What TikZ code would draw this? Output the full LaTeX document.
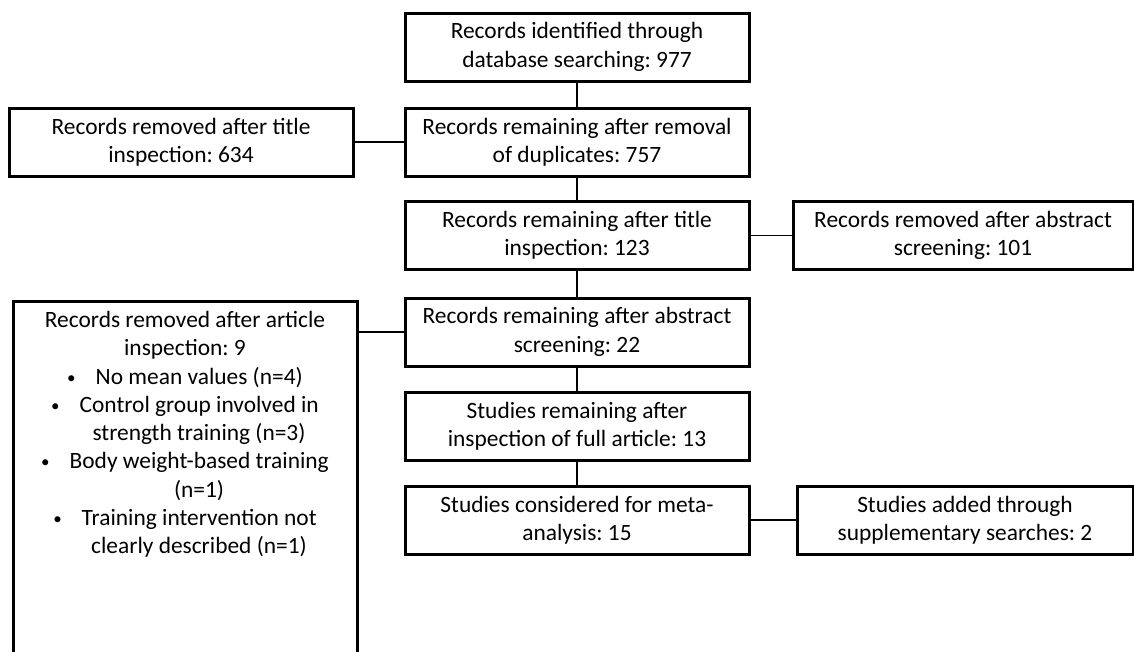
\documentclass[tikz,border=0pt]{standalone}
\usepackage{fontspec}
\setmainfont{Carlito}
\frenchspacing
\newcommand{\smallbul}{\raisebox{1pt}{\fontsize{17}{17}\selectfont\textbullet}}
\begin{document}
\begin{tikzpicture}[x=1pt,y=-1pt,
  box/.style={draw=black, line width=3pt, fill=white, minimum width=344pt, minimum height=68pt,
    align=center, inner sep=0pt, font=\fontsize{23.4}{28.3}\selectfont},
  conn/.style={draw=black, line width=1.4pt}]
\useasboundingbox (0,0) rectangle (1134,651);
\clip (0,0) rectangle (1134,651);
% main column
\node[box] (b1) at (577,47) {Records identified through\\database searching: 977};
\node[box] (b2) at (577,142) {Records remaining after removal\\of duplicates: 757};
\node[box] (b3) at (577,235.5) {Records remaining after title\\inspection: 123};
\node[box] (b4) at (577,332) {Records remaining after abstract\\screening: 22};
\node[box] (b5) at (577,426) {Studies remaining after\\inspection of full article: 13};
\node[box] (b6) at (577,520) {Studies considered for meta-\\analysis: 15};
% side boxes
\node[box] (l1) at (181,142) {Records removed after title\\inspection: 634};
\node[box, minimum width=340pt] (r1) at (963,235.5) {Records removed after abstract\\screening: 101};
\node[box, minimum width=336pt] (r2) at (965,520) {Studies added through\\supplementary searches: 2};
% big left box
\node[draw=black, line width=3pt, minimum width=344pt, minimum height=420pt, anchor=north, inner sep=0pt] (big) at (185,300) {};
\node[anchor=north, align=center, inner sep=0pt, font=\fontsize{23.4}{28.3}\selectfont] (bigtext) at ([yshift=-11pt]big.north)
  {Records removed after article\\
   inspection: 9\\
   \smallbul\hspace{20pt}No mean values (n=4)\\
   \smallbul\hspace{20pt}Control group involved in\\
   \hspace*{28pt}strength training (n=3)\\
   \smallbul\hspace{20pt}Body weight-based training\\
   \hspace*{28pt}(n=1)\\
   \smallbul\hspace{20pt}Training intervention not\\
   \hspace*{28pt}clearly described (n=1)};
% connectors
\draw[conn] (b1.south) -- (b2.north);
\draw[conn] (b2.south) -- (b3.north);
\draw[conn] (b3.south) -- (b4.north);
\draw[conn] (b4.south) -- (b5.north);
\draw[conn] (b5.south) -- (b6.north);
\draw[conn] (l1.east) -- (b2.west);
\draw[conn] (b3.east) -- (r1.west);
\draw[conn] (b4.west) -- (big.east |- b4.west);
\draw[conn] (b6.east) -- (r2.west);
\end{tikzpicture}
\end{document}
